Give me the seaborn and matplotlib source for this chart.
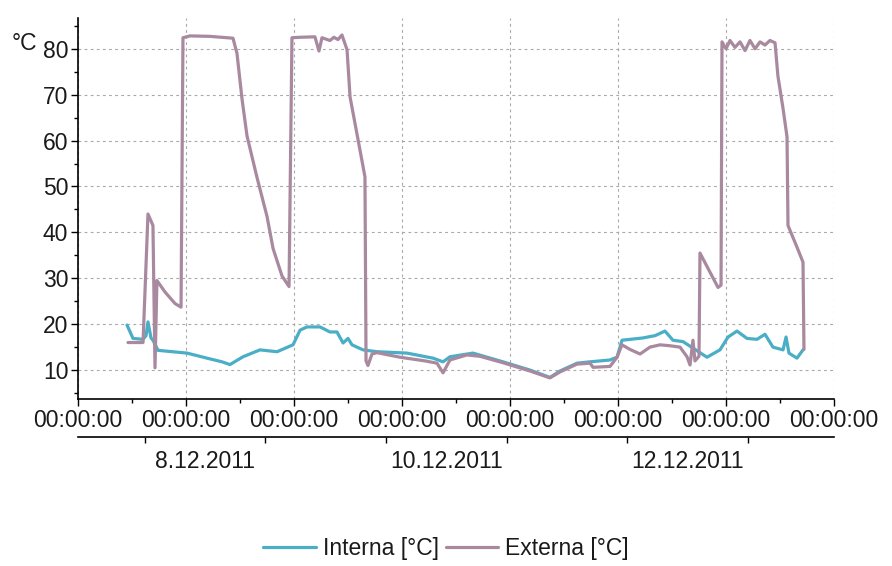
import matplotlib
matplotlib.use('Agg')
import matplotlib.pyplot as plt
from matplotlib.ticker import MultipleLocator
import pandas as pd
import seaborn as sns

# tempo em dias desde o primeiro tick (00:00:00)
dias_int = [0.454, 0.509, 0.602, 0.630, 0.648, 0.676, 0.694, 0.741, 1.009, 1.194,
            1.333, 1.407, 1.528, 1.685, 1.843, 1.991, 2.056, 2.120, 2.241, 2.333,
            2.398, 2.454, 2.500, 2.537, 2.639, 2.769, 3.046, 3.287, 3.380, 3.444,
            3.657, 3.935, 4.185, 4.370, 4.463, 4.620, 4.741, 4.926, 4.991, 5.037,
            5.231, 5.343, 5.435, 5.509, 5.602, 5.713, 5.824, 5.944, 6.019, 6.102,
            6.194, 6.287, 6.361, 6.435, 6.528, 6.556, 6.583, 6.657, 6.713]
temp_int = [19.8, 16.9, 16.7, 17.5, 20.5, 17.0, 16.5, 14.3, 13.7, 12.6,
            11.8, 11.2, 12.9, 14.4, 14.0, 15.5, 18.7, 19.4, 19.4, 18.3,
            18.3, 15.9, 16.9, 15.5, 14.4, 14.0, 13.7, 12.6, 11.8, 12.9,
            13.7, 11.8, 10.0, 8.4, 9.8, 11.5, 11.8, 12.2, 12.8, 16.5,
            17.0, 17.5, 18.5, 16.5, 16.2, 14.5, 12.8, 14.4, 17.2, 18.5,
            16.9, 16.7, 17.8, 15.0, 14.4, 17.2, 13.7, 12.6, 14.4]

dias_ext = [0.463, 0.602, 0.648, 0.694, 0.713, 0.731, 0.806, 0.898, 0.954, 0.972,
            1.037, 1.222, 1.435, 1.472, 1.519, 1.565, 1.657, 1.750, 1.806, 1.889,
            1.954, 1.981, 2.056, 2.194, 2.231, 2.259, 2.333, 2.370, 2.407, 2.444,
            2.491, 2.519, 2.593, 2.657, 2.667, 2.685, 2.722, 2.769, 2.981, 3.213,
            3.324, 3.380, 3.444, 3.602, 3.722, 3.935, 4.185, 4.370, 4.463, 4.620,
            4.741, 4.769, 4.926, 4.991, 5.037, 5.111, 5.204, 5.296, 5.389, 5.481,
            5.574, 5.639, 5.667, 5.694, 5.713, 5.750, 5.759, 5.926, 5.954, 5.963,
            6.000, 6.037, 6.083, 6.130, 6.176, 6.222, 6.269, 6.315, 6.361, 6.407,
            6.454, 6.481, 6.528, 6.565, 6.574, 6.657, 6.713, 6.722]
temp_ext = [16.0, 16.0, 44.0, 41.5, 10.5, 29.5, 27.0, 24.5, 23.7, 82.4,
            82.8, 82.7, 82.3, 79.0, 69.0, 61.0, 52.0, 43.5, 36.5, 30.5,
            28.2, 82.4, 82.5, 82.6, 79.5, 82.4, 81.8, 82.5, 82.0, 83.0,
            79.8, 69.5, 60.2, 52.1, 12.0, 11.0, 13.5, 13.8, 12.8, 12.0,
            11.5, 9.4, 12.2, 13.3, 13.0, 11.6, 9.8, 8.3, 9.6, 11.3,
            11.5, 10.6, 10.8, 12.8, 15.5, 14.5, 13.5, 15.0, 15.5, 15.3,
            15.0, 12.9, 11.1, 16.5, 12.0, 13.0, 35.5, 28.0, 28.5, 81.5,
            80.0, 81.8, 80.3, 81.5, 79.6, 81.8, 80.0, 81.5, 80.8, 81.8,
            81.3, 74.0, 67.0, 60.8, 41.5, 36.8, 33.5, 14.5]

ticks_hora = list(range(8))
rotulos_hora = ['00:00:00'] * 8
limites_dia = [0.62, 1.735, 2.85, 3.97, 5.085, 6.2]
centros_data = [1.18, 3.41, 5.64]
rotulos_data = ['8.12.2011', '10.12.2011', '12.12.2011']

cores = {'Interna [°C]': '#4aaec6', 'Externa [°C]': '#a8899f'}

df = pd.concat([
    pd.DataFrame({'t': dias_int, 'temp': temp_int, 'serie': 'Interna [°C]'}),
    pd.DataFrame({'t': dias_ext, 'temp': temp_ext, 'serie': 'Externa [°C]'}),
])

sns.set_style('ticks')
plt.rcParams['font.family'] = ['Liberation Sans', 'DejaVu Sans']
plt.rcParams['text.color'] = '#1a1a1a'
plt.rcParams['xtick.color'] = '#1a1a1a'
plt.rcParams['ytick.color'] = '#1a1a1a'

fig = plt.figure(figsize=(8.92, 5.66), dpi=100)
ax = fig.add_axes([78 / 892, 1 - 399 / 566, 756 / 892, 381 / 566])

sns.lineplot(data=df, x='t', y='temp', hue='serie', palette=cores,
             estimator=None, sort=False, linewidth=2.3, ax=ax, legend=False)

ax.set_xlim(0, 7)
ax.set_ylim(3.7, 86.7)
ax.set_xticks(ticks_hora, labels=rotulos_hora)
ax.xaxis.set_minor_locator(MultipleLocator(0.5))
ax.yaxis.set_major_locator(MultipleLocator(10))
ax.yaxis.set_minor_locator(MultipleLocator(5))
ax.set_yticks([10, 20, 30, 40, 50, 60, 70, 80])
ax.set_xlabel('')
ax.set_ylabel('')
ax.grid(True, which='major', color='#a8a8a8', linestyle=(0, (2.5, 3)), linewidth=0.8)
for s in ['top', 'right']:
    ax.spines[s].set_visible(False)
for s in ['left', 'bottom']:
    ax.spines[s].set_color('black')
    ax.spines[s].set_linewidth(1.2)
ax.tick_params(which='major', labelsize=16.5, length=5, width=1, pad=2, color='black')
ax.tick_params(which='minor', length=3, width=1, color='black')

sec = ax.secondary_xaxis(-0.1)
sec.set_xticks(limites_dia, labels=[''] * len(limites_dia))
sec.set_xticks(centros_data, labels=rotulos_data, minor=True)
sec.tick_params(which='major', length=4, width=1, color='black')
sec.tick_params(which='minor', length=0, labelsize=16.5, pad=9)
sec.spines['bottom'].set_color('black')
sec.spines['bottom'].set_linewidth(1.2)

fig.text(12 / 892, 1 - 43 / 566, '°C', fontsize=16.5, va='center', ha='left')

handles = [plt.Line2D([], [], color=c, linewidth=2.3) for c in cores.values()]
fig.legend(handles, list(cores.keys()), loc='center', bbox_to_anchor=(0.5, 1 - 549 / 566),
           ncol=2, frameon=False, fontsize=16.5, handlelength=2.3, handletextpad=0.3,
           columnspacing=0.3)

fig.savefig('out.png', dpi=100)
